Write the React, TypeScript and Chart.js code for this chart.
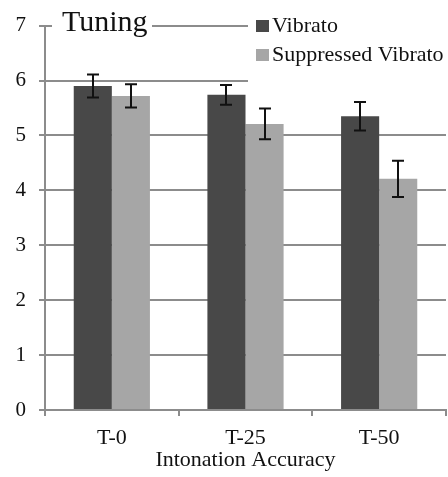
import React, { useEffect, useRef } from 'react';
import { Chart, registerables } from 'chart.js';

Chart.register(...registerables);

const categories = ['T-0', 'T-25', 'T-50'];
const seriesNames = ['Vibrato', 'Suppressed Vibrato'];
const vibrato = [5.9, 5.74, 5.35];
const vibratoErr = [0.21, 0.18, 0.26];
const suppressed = [5.72, 5.21, 4.21];
const suppressedErr = [0.21, 0.28, 0.33];
const yTicks = [0, 1, 2, 3, 4, 5, 6, 7];
const chartTitle = 'Tuning';
const xTitle = 'Intonation Accuracy';

const FONT = '"Liberation Serif", "Times New Roman", serif';
const DARK = '#484848';
const LIGHT = '#a6a6a6';
const GRID = '#8c8c8c';
const TEXT = '#111111';

const errorBarPlugin = {
  id: 'errorBars',
  afterDatasetsDraw(chart: any) {
    const ctx = chart.ctx;
    const y = chart.scales.y;
    const errs = [vibratoErr, suppressedErr];
    ctx.save();
    ctx.strokeStyle = '#111111';
    ctx.lineWidth = 2;
    chart.data.datasets.forEach((ds: any, i: number) => {
      const meta = chart.getDatasetMeta(i);
      meta.data.forEach((bar: any, j: number) => {
        const v = ds.data[j];
        const e = errs[i][j];
        const top = y.getPixelForValue(v + e);
        const bot = y.getPixelForValue(v - e);
        const x = Math.round(bar.x);
        ctx.beginPath();
        ctx.moveTo(x, top);
        ctx.lineTo(x, bot);
        ctx.moveTo(x - 6, top);
        ctx.lineTo(x + 6, top);
        ctx.moveTo(x - 6, bot);
        ctx.lineTo(x + 6, bot);
        ctx.stroke();
      });
    });
    ctx.restore();
  },
};

const overlayPlugin = {
  id: 'overlay',
  beforeDatasetsDraw(chart: any) {
    const ctx = chart.ctx;
    ctx.save();
    ctx.fillStyle = '#ffffff';
    ctx.fillRect(52, 0, 100, 46);
    ctx.fillRect(248, 0, 200, 86);
    ctx.fillStyle = TEXT;
    ctx.textBaseline = 'alphabetic';
    ctx.textAlign = 'left';
    ctx.font = `30px ${FONT}`;
    ctx.fillText(chartTitle, 62, 31);
    const colors = [DARK, LIGHT];
    ctx.font = `22px ${FONT}`;
    seriesNames.forEach((name, i) => {
      const rowY = 32 + i * 29;
      ctx.fillStyle = colors[i];
      ctx.fillRect(256, rowY - 12, 13, 12);
      ctx.fillStyle = TEXT;
      ctx.fillText(name, 272, rowY);
    });
    ctx.restore();
  },
};

export default function App() {
  const ref = useRef<HTMLCanvasElement | null>(null);
  useEffect(() => {
    if (!ref.current) return;
    const chart = new Chart(ref.current, {
      type: 'bar',
      data: {
        labels: categories,
        datasets: [
          { label: seriesNames[0], data: vibrato, backgroundColor: DARK, borderWidth: 0 },
          { label: seriesNames[1], data: suppressed, backgroundColor: LIGHT, borderWidth: 0 },
        ],
      },
      options: {
        responsive: false,
        animation: false,
        devicePixelRatio: 1,
        layout: { padding: { top: 24, right: 2, left: 0, bottom: 0 } },
        plugins: {
          legend: { display: false },
          title: { display: false },
          tooltip: { enabled: false },
        },
        datasets: { bar: { categoryPercentage: 0.57, barPercentage: 1.0 } },
        scales: {
          x: {
            grid: { drawOnChartArea: false, drawTicks: true, tickLength: 6, color: GRID, lineWidth: 2 },
            border: { display: true, color: GRID, width: 2 },
            ticks: { color: TEXT, font: { family: FONT, size: 22 }, padding: 9 },
            title: {
              display: true,
              text: xTitle,
              color: TEXT,
              font: { family: FONT, size: 22 },
              padding: { top: 0, bottom: 4 },
            },
            afterFit: (s: any) => { s.height = 67; },
          },
          y: {
            min: 0,
            max: 7,
            afterBuildTicks: (s: any) => { s.ticks = yTicks.map((v) => ({ value: v })); },
            grid: { drawOnChartArea: true, drawTicks: true, tickLength: 6, color: GRID, lineWidth: 2 },
            border: { display: true, color: GRID, width: 2 },
            ticks: { color: TEXT, font: { family: FONT, size: 21 }, padding: 13 },
            afterFit: (s: any) => { s.width = 45; },
          },
        },
      },
      plugins: [overlayPlugin, errorBarPlugin],
    });
    return () => chart.destroy();
  }, []);
  return (
    <div style={{ position: 'fixed', left: 0, top: 0, width: 448, height: 477, background: '#fff' }}>
      <canvas ref={ref} width={448} height={477} style={{ display: 'block' }} />
    </div>
  );
}
